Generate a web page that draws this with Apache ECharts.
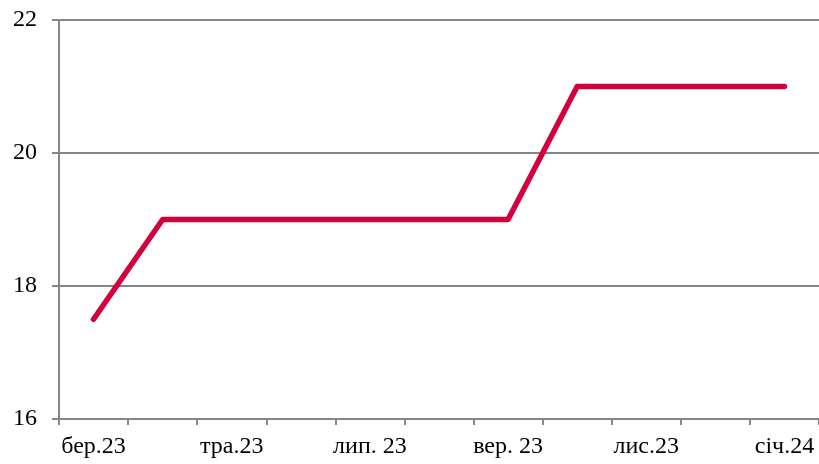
<!DOCTYPE html>
<html>
<head>
<meta charset="utf-8">
<script src="https://cdn.jsdelivr.net/npm/echarts@6/dist/echarts.min.js"></script>
<style>
  html, body { margin: 0; padding: 0; background: #fff; }
  #main { width: 819px; height: 464px; }
</style>
</head>
<body>
<div id="main"></div>
<script>
const months = ['бер.23', 'кві.23', 'тра.23', 'чер.23', 'лип. 23', 'сер.23', 'вер. 23', 'жов.23', 'лис.23', 'гру.23', 'січ.24'];
const values = [17.5, 19, 19, 19, 19, 19, 19, 21, 21, 21, 21];

const axisGray = '#868686';
const font = '"Liberation Serif", "Times New Roman", serif';

const chart = echarts.init(document.getElementById('main'));
chart.setOption({
  animation: false,
  grid: { left: 59, right: -2, top: 20, bottom: 45, containLabel: false },
  xAxis: {
    type: 'category',
    data: months,
    boundaryGap: true,
    axisLine: { lineStyle: { color: axisGray, width: 2 } },
    axisTick: { show: true, interval: 0, length: 6, lineStyle: { color: axisGray, width: 2 } },
    axisLabel: {
      interval: 1,
      color: '#000',
      fontFamily: font,
      fontSize: 24,
      margin: 16
    },
    splitLine: { show: false }
  },
  yAxis: {
    type: 'value',
    min: 16,
    max: 22,
    interval: 2,
    axisLine: { show: true, lineStyle: { color: axisGray, width: 2 } },
    axisTick: { show: true, length: 7, lineStyle: { color: axisGray, width: 2 } },
    axisLabel: {
      color: '#000',
      fontFamily: font,
      fontSize: 24,
      margin: 22
    },
    splitLine: { show: true, lineStyle: { color: axisGray, width: 2 } }
  },
  series: [{
    type: 'line',
    data: values,
    showSymbol: false,
    lineStyle: { color: '#D2003C', width: 5.5, cap: 'round', join: 'round' }
  }]
});
</script>
</body>
</html>
